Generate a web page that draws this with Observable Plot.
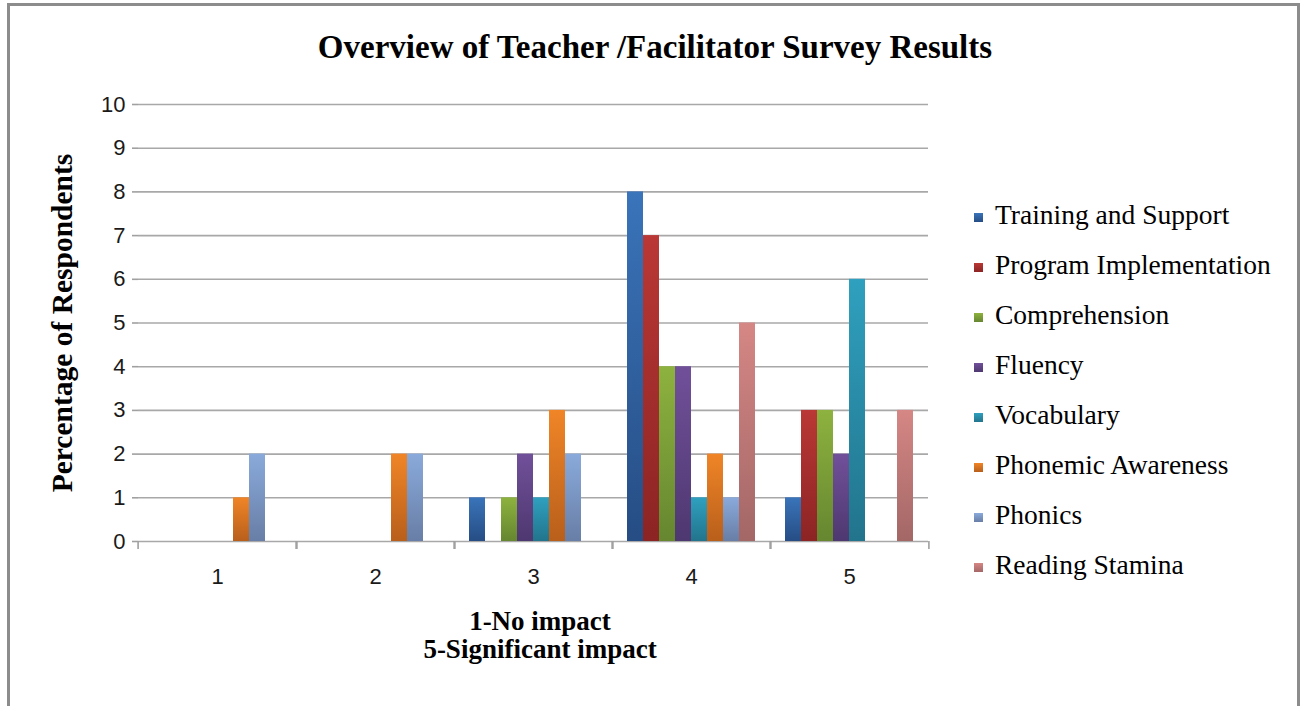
<!DOCTYPE html>
<html>
<head>
<meta charset="utf-8">
<script src="https://cdn.jsdelivr.net/npm/d3@7"></script>
<script src="https://cdn.jsdelivr.net/npm/@observablehq/plot@0.6"></script>
<style>
  html, body { margin: 0; padding: 0; background: #fff; }
  #chart { position: relative; width: 1302px; height: 706px; overflow: hidden; background: #fff; }
  #frame { position: absolute; left: 7px; top: 3px; width: 1293px; height: 740px; border: 3px solid #8c8c8c; box-sizing: border-box; }
  #title { position: absolute; left: 0; width: 1310px; top: 31px; text-align: center; font-family: "Liberation Serif", serif; font-weight: bold; font-size: 33px; line-height: 33px; color: #000; white-space: nowrap; }
  #ylabel { position: absolute; left: 62px; top: 323px; transform: translate(-50%, -50%) rotate(-90deg); font-family: "Liberation Serif", serif; font-weight: bold; font-size: 29.5px; line-height: 30px; white-space: nowrap; color: #000; }
  #xlabel { position: absolute; left: 340px; width: 400px; top: 607px; text-align: center; font-family: "Liberation Serif", serif; font-weight: bold; font-size: 27px; line-height: 28px; color: #000; }
  #legend { position: absolute; left: 0; top: 0; }
  .lg-row { position: absolute; left: 974px; height: 30px; font-family: "Liberation Serif", serif; font-size: 27.5px; line-height: 30px; white-space: nowrap; color: #000; }
  .lg-sw { position: absolute; left: 0; top: 13px; width: 9px; height: 9px; }
  .lg-tx { position: absolute; left: 21px; top: 0; }
  #plot { position: absolute; left: 0; top: 0; }
  #plot svg text { font-size: 22px; font-family: "Liberation Sans", Arial, sans-serif; }
</style>
</head>
<body>
<div id="chart">
  <div id="frame"></div>
  <div id="plot"></div>
  <div id="title">Overview of Teacher /Facilitator Survey Results</div>
  <div id="ylabel">Percentage of Respondents</div>
  <div id="xlabel">1-No impact<br>5-Significant impact</div>
  <div id="legend"></div>
</div>
<script>
// ---- data ----
const groups = ["1", "2", "3", "4", "5"];
const seriesNames = ["Training and Support", "Program Implementation", "Comprehension", "Fluency", "Vocabulary", "Phonemic Awareness", "Phonics", "Reading Stamina"];
const trainingSupport       = [0, 0, 1, 8, 1];
const programImplementation = [0, 0, 0, 7, 3];
const comprehension         = [0, 0, 1, 4, 3];
const fluency               = [0, 0, 2, 4, 2];
const vocabulary            = [0, 0, 1, 1, 6];
const phonemicAwareness     = [1, 2, 3, 2, 0];
const phonics               = [2, 2, 2, 1, 0];
const readingStamina        = [0, 0, 0, 5, 3];
const yTicks = [0, 1, 2, 3, 4, 5, 6, 7, 8, 9, 10];
const colorsTop    = ["#3a74ba", "#ba3835", "#8eb23f", "#71509a", "#2fa0bf", "#f08527", "#8aaadb", "#d58785"];
const colorsBottom = ["#264d84", "#8c2424", "#668630", "#4e3870", "#22748c", "#b85f1b", "#687ea6", "#a36766"];

const seriesValues = [trainingSupport, programImplementation, comprehension, fluency, vocabulary, phonemicAwareness, phonics, readingStamina];
const rows = [];
seriesNames.forEach((s, i) => groups.forEach((g, j) => rows.push({group: g, series: s, value: seriesValues[i][j]})));

const W = 1302, H = 706;
const mL = 136, mR = 372, mT = 104, mB = 165;
const bandW = (W - mL - mR) / groups.length;

const barMarks = seriesNames.map((s, i) =>
  Plot.barY(rows.filter(d => d.series === s && d.value > 0), {
    fx: "group", x: "series", y: "value", fill: `url(#grad${i})`, inset: 0
  })
);

const plot = Plot.plot({
  width: W, height: H,
  marginLeft: mL, marginRight: mR, marginTop: mT, marginBottom: mB,
  style: { fontFamily: "'Liberation Sans', Arial, sans-serif", fontSize: "22px", background: "transparent", overflow: "visible" },
  fx: { domain: groups, padding: 0, axis: null, label: null },
  x: { domain: seriesNames, paddingInner: 0, paddingOuter: 0.78, axis: null },
  y: { domain: [0, 10], axis: null },
  marks: [
    Plot.ruleY(yTicks, { stroke: "#a8a8a8", strokeWidth: 1.6 }),
    ...barMarks,
    Plot.axisY(yTicks, { anchor: "left", tickSize: 6, tickPadding: 7, line: true, stroke: "#a0a0a0", strokeWidth: 1.6, fill: "#1a1a1a", fontSize: 22, label: null, tickFormat: d => String(d) }),
    Plot.axisFx({ anchor: "bottom", tickSize: 0, tickPadding: 27, fontSize: 22, fill: "#1a1a1a", label: null }),
    Plot.axisFx({ anchor: "bottom", tickSize: 8, tickFormat: () => "", stroke: "#a0a0a0", strokeWidth: 1.6, dx: -bandW / 2, label: null }),
    Plot.axisFx({ anchor: "bottom", tickSize: 8, tickFormat: () => "", stroke: "#a0a0a0", strokeWidth: 1.6, dx: bandW / 2, label: null })
  ]
});

// gradient defs
const ns = "http://www.w3.org/2000/svg";
const svg = plot.tagName.toLowerCase() === "svg" ? plot : plot.querySelector("svg");
const defs = document.createElementNS(ns, "defs");
colorsTop.forEach((c, i) => {
  const lg = document.createElementNS(ns, "linearGradient");
  lg.setAttribute("id", `grad${i}`);
  lg.setAttribute("x1", "0"); lg.setAttribute("y1", "0");
  lg.setAttribute("x2", "0"); lg.setAttribute("y2", "1");
  const s1 = document.createElementNS(ns, "stop");
  s1.setAttribute("offset", "0"); s1.setAttribute("stop-color", c);
  const s2 = document.createElementNS(ns, "stop");
  s2.setAttribute("offset", "1"); s2.setAttribute("stop-color", colorsBottom[i]);
  lg.appendChild(s1); lg.appendChild(s2);
  defs.appendChild(lg);
});
svg.insertBefore(defs, svg.firstChild);
document.getElementById("plot").appendChild(plot);

// legend
const legend = document.getElementById("legend");
seriesNames.forEach((s, i) => {
  const row = document.createElement("div");
  row.className = "lg-row";
  row.style.top = (200 + 50 * i) + "px";
  const sw = document.createElement("div");
  sw.className = "lg-sw";
  sw.style.background = `linear-gradient(${colorsTop[i]}, ${colorsBottom[i]})`;
  const tx = document.createElement("span");
  tx.className = "lg-tx";
  tx.textContent = s;
  row.appendChild(sw); row.appendChild(tx);
  legend.appendChild(row);
});
</script>
</body>
</html>
